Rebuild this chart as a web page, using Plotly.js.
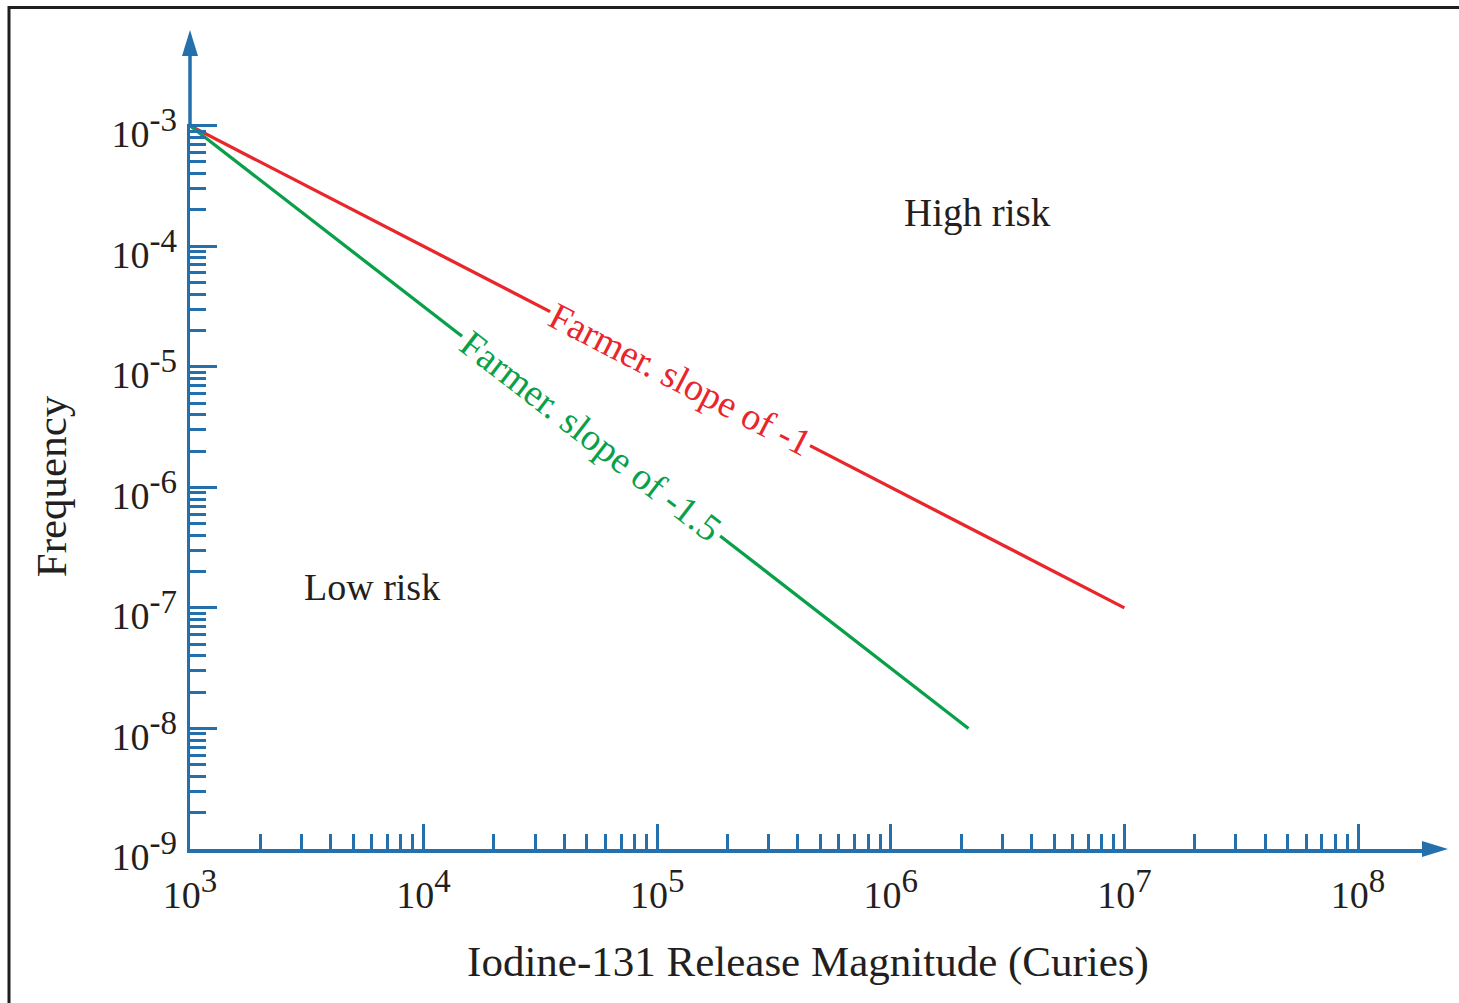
<!DOCTYPE html>
<html>
<head>
<meta charset="utf-8">
<script src="https://cdn.plot.ly/plotly-3.0.1.min.js"></script>
<style>
  html, body { margin: 0; padding: 0; background: #ffffff; }
  #chart { width: 1459px; height: 1003px; }
</style>
</head>
<body>
<div id="chart"></div>
<script>
// ---------------- data ----------------
// Farmer curve, slope -1 (gap in the line leaves room for its label)
const redX = [1000, 34800, null, 451000, 10000000];
const redY = [1e-3, 2.87e-5, null, 2.22e-6, 1e-7];
// Farmer curve, slope -1.5
const greenX = [1000, 14600, null, 186000, 2150000];
const greenY = [1e-3, 1.79e-5, null, 3.95e-7, 1.0e-8];

const redLabel = 'Farmer. slope of -1';
const greenLabel = 'Farmer. slope of -1.5';
const highRiskLabel = 'High risk';
const lowRiskLabel = 'Low risk';

const xTitle = 'Iodine-131 Release Magnitude (Curies)';
const yTitle = 'Frequency';

const xExponents = [3, 4, 5, 6, 7, 8];
const yExponents = [-9, -8, -7, -6, -5, -4, -3];

// ---------------- style ----------------
const AX = '#2470ad';
const RED = '#e8262c';
const GREEN = '#0aa04a';
const TXT = '#231f20';
const FONT = 'Liberation Serif, Times New Roman, serif';

function powLabel(e) {
  return '10<sup><span style="font-size:33px">' + e + '</span></sup>';
}
const xTickVals = xExponents.map(e => Math.pow(10, e));
const xTickText = xExponents.map(powLabel);
const yTickVals = yExponents.map(e => Math.pow(10, e));
const yTickText = yExponents.map(powLabel);

function minorVals(exps) {
  const out = [];
  for (let i = 0; i < exps.length - 1; i++) {
    const lo = Math.min(exps[i], exps[i + 1]);
    for (let m = 2; m <= 9; m++) out.push(m * Math.pow(10, lo));
  }
  return out;
}
const xMinor = minorVals(xExponents);
const yMinor = minorVals(yExponents.slice().sort((a, b) => a - b));

// label position: middle of the gap left in each line (log units)
function gapMid(xs, ys) {
  const i = xs.indexOf(null);
  return {
    x: (Math.log10(xs[i - 1]) + Math.log10(xs[i + 1])) / 2,
    y: (Math.log10(ys[i - 1]) + Math.log10(ys[i + 1])) / 2
  };
}
const redMid = gapMid(redX, redY);
const greenMid = gapMid(greenX, greenY);

// plot-area geometry
const L = 190, R = 33, T = 124, B = 154;
const W = 1459 - L - R, H = 1003 - T - B;

const traces = [
  { x: redX, y: redY, type: 'scatter', mode: 'lines', name: redLabel,
    line: { color: RED, width: 3.3 }, connectgaps: false, cliponaxis: false, hoverinfo: 'x+y' },
  { x: greenX, y: greenY, type: 'scatter', mode: 'lines', name: greenLabel,
    line: { color: GREEN, width: 3.3 }, connectgaps: false, cliponaxis: false, hoverinfo: 'x+y' }
];

const layout = {
  width: 1459, height: 1003,
  margin: { l: L, r: R, t: T, b: B, pad: 0 },
  paper_bgcolor: '#ffffff', plot_bgcolor: '#ffffff',
  showlegend: false,
  font: { family: FONT, color: TXT, size: 38 },
  xaxis: {
    type: 'log', range: [3, 3 + W / 233.6],
    showgrid: false, zeroline: false,
    showline: true, linecolor: AX, linewidth: 3.5,
    tickmode: 'array', tickvals: xTickVals, ticktext: xTickText,
    ticks: 'inside', ticklen: 25, tickwidth: 3, tickcolor: AX,
    ticklabelstandoff: 10,
    tickfont: { family: FONT, size: 38, color: TXT },
    minor: { tickmode: 'array', tickvals: xMinor, ticks: 'inside', ticklen: 15, tickwidth: 3, tickcolor: AX, showgrid: false },
    title: { text: xTitle, font: { family: FONT, size: 43, color: TXT }, standoff: 32 },
    automargin: false
  },
  yaxis: {
    type: 'log', range: [-9, -9 + H / 120.55],
    showgrid: false, zeroline: false,
    showline: true, linecolor: AX, linewidth: 3.5,
    tickmode: 'array', tickvals: yTickVals, ticktext: yTickText,
    ticks: 'inside', ticklen: 27, tickwidth: 3, tickcolor: AX,
    ticklabelstandoff: 2, ticklabelshift: 8,
    tickfont: { family: FONT, size: 38, color: TXT },
    minor: { tickmode: 'array', tickvals: yMinor, ticks: 'inside', ticklen: 16, tickwidth: 3, tickcolor: AX, showgrid: false },
    title: { text: yTitle, font: { family: FONT, size: 43, color: TXT }, standoff: 32 },
    automargin: false
  },
  shapes: [
    // outer frame
    { type: 'rect', xref: 'paper', yref: 'paper',
      x0: (9 - L) / W, x1: 1.2, y0: -0.5, y1: 1 + (T - 7.5) / H,
      line: { color: '#1e1e1e', width: 3 }, fillcolor: 'rgba(0,0,0,0)', layer: 'below' },
    // y axis extension above the plot
    { type: 'line', xref: 'paper', yref: 'paper', x0: 0, x1: 0, y0: 1, y1: 1 + (T - 52) / H,
      line: { color: AX, width: 3.5 } },
    // y axis arrow head
    { type: 'path', xref: 'paper', yref: 'paper', xsizemode: 'pixel', ysizemode: 'pixel',
      xanchor: 0, yanchor: 1 + (T - 30) / H,
      path: 'M0,0 L-8,-26 L8,-26 Z', fillcolor: AX, line: { color: AX, width: 0 } },
    // x axis arrow head
    { type: 'path', xref: 'paper', yref: 'paper', xsizemode: 'pixel', ysizemode: 'pixel',
      xanchor: 1 + (1448 - (1459 - R)) / W, yanchor: 0,
      path: 'M0,0 L-26,8 L-26,-8 Z', fillcolor: AX, line: { color: AX, width: 0 } }
  ],
  annotations: [
    { x: redMid.x, y: redMid.y, xref: 'x', yref: 'y', text: redLabel, showarrow: false,
      textangle: 27.3, font: { family: FONT, size: 38, color: RED } },
    { x: greenMid.x, y: greenMid.y, xref: 'x', yref: 'y', text: greenLabel, showarrow: false,
      textangle: 37.7, font: { family: FONT, size: 38, color: GREEN } },
    { x: 6.37, y: -3.724, xref: 'x', yref: 'y', text: highRiskLabel, showarrow: false,
      font: { family: FONT, size: 39, color: TXT } },
    { x: 3.78, y: -6.827, xref: 'x', yref: 'y', text: lowRiskLabel, showarrow: false,
      font: { family: FONT, size: 38, color: TXT } }
  ]
};

Plotly.newPlot('chart', traces, layout, { staticPlot: true, displayModeBar: false });
</script>
</body>
</html>
